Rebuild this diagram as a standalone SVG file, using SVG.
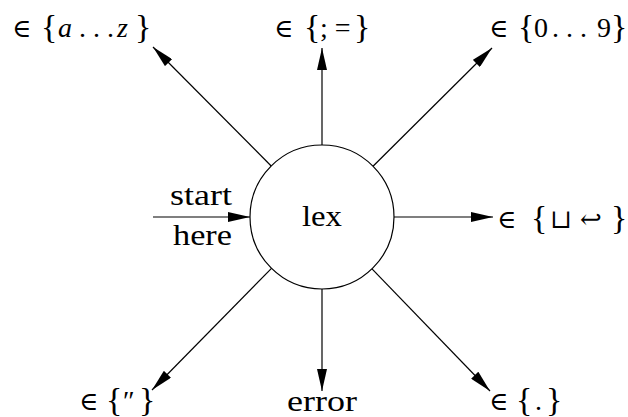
<svg xmlns="http://www.w3.org/2000/svg" width="628" height="417" viewBox="0 0 628 417">
<style>
text{font-family:"Liberation Serif","DejaVu Serif",serif;font-size:29px;fill:#000}
.m{font-size:28px}
.b{font-size:34px}
.e{font-family:"DejaVu Serif","Liberation Serif",serif;font-size:26px}
.it{font-style:italic}
line{stroke:#000;stroke-width:1.2}
</style>
<defs>
<marker id="ah" viewBox="0 0 22 10" refX="22" refY="5" markerWidth="22" markerHeight="10" markerUnits="userSpaceOnUse" orient="auto">
<path d="M0,0 L22,5 L0,10 Z" fill="#000"/>
</marker>
</defs>
<rect width="628" height="417" fill="#fff"/>
<g id="lex">
<circle cx="322" cy="217" r="72" fill="#fff" stroke="#000" stroke-width="1.2"/>
<text x="302" y="226" textLength="40" lengthAdjust="spacingAndGlyphs">lex</text>
</g>
<g id="connectors">
<line x1="153" y1="217" x2="250" y2="217" marker-end="url(#ah)"/>
<line x1="322" y1="145" x2="322" y2="48" marker-end="url(#ah)"/>
<line x1="271.2" y1="166" x2="153" y2="47" marker-end="url(#ah)"/>
<line x1="373" y1="166.2" x2="492" y2="48" marker-end="url(#ah)"/>
<line x1="394" y1="217" x2="493" y2="217" marker-end="url(#ah)"/>
<line x1="271.5" y1="268.3" x2="152" y2="390" marker-end="url(#ah)"/>
<line x1="322" y1="289" x2="322" y2="391" marker-end="url(#ah)"/>
<line x1="372" y1="268.8" x2="490" y2="391" marker-end="url(#ah)"/>
</g>
<g id="start-label">
<text x="170" y="205" textLength="62" lengthAdjust="spacingAndGlyphs">start</text>
<text x="173" y="245" textLength="59" lengthAdjust="spacingAndGlyphs">here</text>
</g>
<g id="t-az">
<text class="e" x="12" y="37">∈</text>
<text class="b" x="41" y="38">{</text>
<text class="m it" x="58" y="37">a</text>
<text class="m" x="79" y="37">. . .</text>
<text class="m it" x="117" y="37">z</text>
<text class="b" x="135" y="38">}</text>
</g>
<g id="t-semi">
<text class="e" x="274" y="37">∈</text>
<text class="b" x="304" y="38">{</text>
<text class="m" x="320" y="37">; =</text>
<text class="b" x="354" y="38">}</text>
</g>
<g id="t-09">
<text class="e" x="489" y="37">∈</text>
<text class="b" x="518" y="38">{</text>
<text class="m" x="534" y="37">0</text>
<text class="m" x="552" y="37">. . .</text>
<text class="m" x="597" y="37">9</text>
<text class="b" x="611" y="38">}</text>
</g>
<g id="t-ws">
<text class="e" x="497" y="228">∈</text>
<text class="b" x="531" y="229">{</text>
<text class="e" x="550" y="228">⊔</text>
<text class="e" x="580" y="228">↩</text>
<text class="b" x="611" y="229">}</text>
</g>
<g id="t-quote">
<text class="e" x="79" y="410">∈</text>
<text class="b" x="106" y="411">{</text>
<text class="m" x="123" y="410">″</text>
<text class="b" x="139" y="411">}</text>
</g>
<g id="t-error"><text x="287" y="411" textLength="70" lengthAdjust="spacingAndGlyphs">error</text></g>
<g id="t-dot">
<text class="e" x="489" y="410">∈</text>
<text class="b" x="516" y="411">{</text>
<text class="m" x="535" y="410">.</text>
<text class="b" x="546" y="411">}</text>
</g>
</svg>
